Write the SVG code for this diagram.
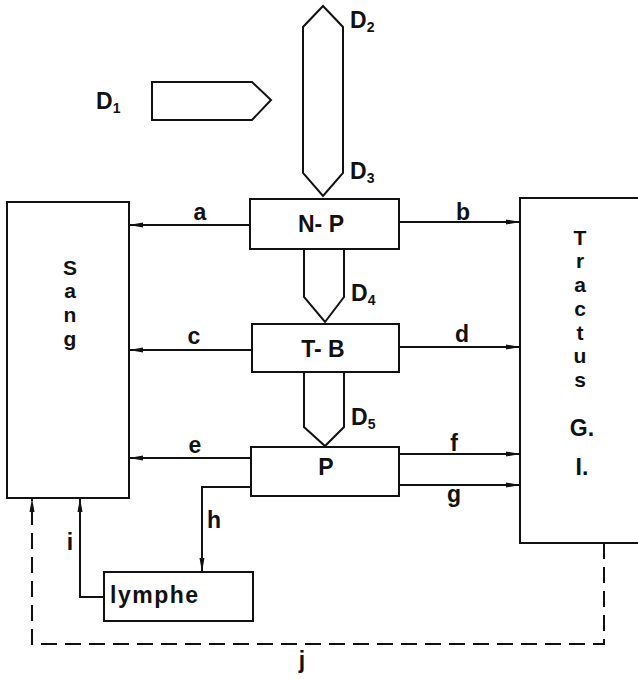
<svg xmlns="http://www.w3.org/2000/svg" width="638" height="679" viewBox="0 0 638 679">
<style>
.s{fill:none;stroke:#111;stroke-width:2;stroke-linejoin:miter}
.t{font-family:"Liberation Sans",Arial,sans-serif;font-weight:bold;font-size:23px;fill:#111}
.v{font-size:21px}
.m{text-anchor:middle}
.d{stroke-dasharray:16 8}
</style>
<defs>
<marker id="ah" viewBox="0 0 14 6" refX="14" refY="3" markerWidth="14" markerHeight="6" markerUnits="userSpaceOnUse" orient="auto">
<path d="M0,0.5 L14,3 L0,5.5 Z" fill="#111"/>
</marker>
</defs>
<rect width="638" height="679" fill="#fff"/>

<g id="D1">
<path class="s" d="M152,82 H252 L271,100 L252,120 H152 Z"/>
<text class="t" x="96" y="109" font-size="27">D<tspan font-size="14" dy="4">1</tspan></text>
</g>
<g id="D2D3">
<path class="s" d="M323,6 L343,27 V173 L323,196 L303,173 V27 Z"/>
<text class="t" x="350" y="28" font-size="27">D<tspan font-size="14" dy="4">2</tspan></text>
<text class="t" x="350" y="179" font-size="27">D<tspan font-size="14" dy="4">3</tspan></text>
</g>
<g id="D4">
<path class="s" d="M304,249 V297 L325,322 L344,297 V249"/>
<text class="t" x="351" y="301" font-size="27">D<tspan font-size="14" dy="4">4</tspan></text>
</g>
<g id="D5">
<path class="s" d="M304,372 V427 L325,446 L344,427 V372"/>
<text class="t" x="351" y="425" font-size="27">D<tspan font-size="14" dy="4">5</tspan></text>
</g>

<g id="Sang">
<rect class="s" x="7" y="202" width="122" height="296"/>
<text class="t v m" x="70" y="275">S</text>
<text class="t v m" x="70" y="298">a</text>
<text class="t v m" x="70" y="322">n</text>
<text class="t v m" x="70" y="346">g</text>
</g>
<g id="Tractus">
<path class="s" d="M640,198 H520 V543 H640"/>
<text class="t v m" x="580" y="245">T</text>
<text class="t v m" x="580" y="268">r</text>
<text class="t v m" x="580" y="292">a</text>
<text class="t v m" x="580" y="316">c</text>
<text class="t v m" x="580" y="340">t</text>
<text class="t v m" x="580" y="363">u</text>
<text class="t v m" x="580" y="387">s</text>
<text class="t m" x="582" y="436">G.</text>
<text class="t m" x="582" y="475">I.</text>
</g>
<g id="NP">
<rect class="s" x="250" y="199" width="149" height="50"/>
<text class="t m" x="321" y="232">N- P</text>
</g>
<g id="TB">
<rect class="s" x="252" y="324" width="147" height="48"/>
<text class="t m" x="323" y="357">T- B</text>
</g>
<g id="P">
<rect class="s" x="251" y="447" width="148" height="49"/>
<text class="t m" x="326" y="475">P</text>
</g>
<g id="lymphe">
<rect class="s" x="104" y="572" width="149" height="49"/>
<text class="t" x="110" y="603" font-size="25" letter-spacing="1.5">lymphe</text>
</g>

<g id="connectors">
<line class="s" x1="250" y1="225" x2="129" y2="225" marker-end="url(#ah)"/>
<line class="s" x1="252" y1="350" x2="129" y2="350" marker-end="url(#ah)"/>
<line class="s" x1="251" y1="458" x2="129" y2="458" marker-end="url(#ah)"/>
<line class="s" x1="399" y1="222" x2="520" y2="222" marker-end="url(#ah)"/>
<line class="s" x1="399" y1="347" x2="520" y2="347" marker-end="url(#ah)"/>
<line class="s" x1="399" y1="454" x2="520" y2="454" marker-end="url(#ah)"/>
<line class="s" x1="399" y1="485" x2="520" y2="485" marker-end="url(#ah)"/>
<path class="s" d="M251,487 H202 V572" marker-end="url(#ah)"/>
<path class="s" d="M104,597 H80 V498" marker-end="url(#ah)"/>
<path class="s d" d="M604,543 V644 H32 V498" marker-end="url(#ah)"/>
<text class="t m" x="200" y="220">a</text>
<text class="t m" x="463" y="220">b</text>
<text class="t m" x="194" y="344">c</text>
<text class="t m" x="462" y="342">d</text>
<text class="t m" x="195" y="453">e</text>
<text class="t m" x="454" y="451">f</text>
<text class="t m" x="454" y="502">g</text>
<text class="t m" x="214" y="528">h</text>
<text class="t m" x="70" y="550">i</text>
<text class="t m" x="302" y="668">j</text>
</g>
</svg>
